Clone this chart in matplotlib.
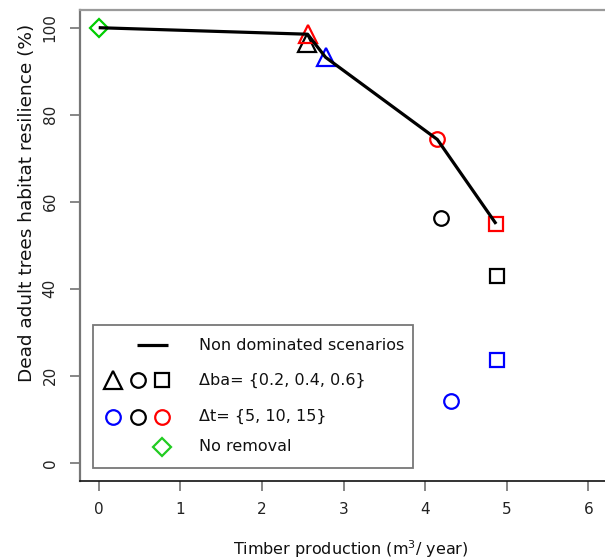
import matplotlib
matplotlib.use("Agg")
import matplotlib.pyplot as plt
from matplotlib.patches import Rectangle
from matplotlib.lines import Line2D

# ---------------- data ----------------
x_ticks = [0, 1, 2, 3, 4, 5, 6]
y_ticks = [0, 20, 40, 60, 80, 100]

# scenarios: shape by delta basal area, colour by delta t
scen_dba = [0.2, 0.2, 0.2, 0.4, 0.4, 0.4, 0.6, 0.6, 0.6]
scen_dt = [5, 10, 15, 5, 10, 15, 5, 10, 15]
scen_x = [2.78, 2.555, 2.56, 4.32, 4.20, 4.15, 4.88, 4.88, 4.87]
scen_y = [93.2, 96.5, 98.5, 14.2, 56.3, 74.3, 23.5, 43.0, 54.9]

no_removal_x = [0.0]
no_removal_y = [100.0]

front_x = [0.0, 2.56, 2.78, 4.15, 4.87]
front_y = [100.0, 98.5, 93.2, 74.3, 54.9]

dba_marker = {0.2: "^", 0.4: "o", 0.6: "s"}
dt_color = {5: "#0000FF", 10: "#000000", 15: "#FF0000"}
marker_size = {"^": 12.5, "o": 10.5, "s": 10}

legend_labels = ["Non dominated scenarios", "\u0394ba= {0.2, 0.4, 0.6}",
                 "\u0394t= {5, 10, 15}", "No removal"]

# ---------------- figure ----------------
W, H = 605, 560
fig = plt.figure(figsize=(W / 100, H / 100), dpi=100)
AX_L, AX_R, AX_T, AX_B = 80, 612, 10, 480.5
ax = fig.add_axes([AX_L / W, (H - AX_B) / H, (AX_R - AX_L) / W, (AX_B - AX_T) / H])

for xv, yv, d, t in zip(scen_x, scen_y, scen_dba, scen_dt):
    m = dba_marker[d]
    ax.plot([xv], [yv], linestyle="none", marker=m, markersize=marker_size[m],
            markerfacecolor="none", markeredgecolor=dt_color[t],
            markeredgewidth=1.6, zorder=3)

ax.plot(no_removal_x, no_removal_y, linestyle="none", marker="D", markersize=9.3,
        markerfacecolor="none", markeredgecolor="#00CD00", markeredgewidth=1.6,
        zorder=3)

ax.plot(front_x, front_y, color="black", linewidth=2.3, zorder=4,
        solid_capstyle="butt")

ax.set_xlim((AX_L - 98.7) / 81.6, (AX_R - 98.7) / 81.6)
ax.set_ylim((462.7 - AX_B) / 4.35, (462.7 - AX_T) / 4.35)
ax.set_xticks(x_ticks)
ax.set_xticklabels([str(v) for v in x_ticks])
ax.set_yticks(y_ticks)
ax.set_yticklabels([str(v) for v in y_ticks])

ax.tick_params(axis="both", direction="out", length=7.2, width=1.1,
               color="#666666", labelsize=11, labelcolor="#222222")
ax.tick_params(axis="x", pad=8)
ax.tick_params(axis="y", pad=9, labelrotation=90)
for lab in ax.get_yticklabels():
    lab.set_verticalalignment("center")

ax.spines["right"].set_visible(False)
ax.spines["top"].set_color("#9a9a9a")
ax.spines["top"].set_linewidth(1.6)
ax.spines["left"].set_color("#777777")
ax.spines["left"].set_linewidth(1.6)
ax.spines["bottom"].set_color("#111111")
ax.spines["bottom"].set_linewidth(1.2)

ax.set_xlabel("Timber production (m$^3$/ year)", fontsize=11.5, color="#111111")
ax.xaxis.set_label_coords((351 - AX_L) / (AX_R - AX_L), (AX_B - 538) / (AX_B - AX_T))
ax.set_ylabel("Dead adult trees habitat resilience (%)", fontsize=13.3,
              color="#111111")
ax.yaxis.set_label_coords((36 - AX_L) / (AX_R - AX_L), (AX_B - 203) / (AX_B - AX_T))


# ---------------- legend (drawn as a boxed key) ----------------
def pa(px, py):
    return ((px - AX_L) / (AX_R - AX_L), (AX_B - py) / (AX_B - AX_T))


x0, y0 = pa(92.7, 467.7)
x1, y1 = pa(412.7, 325)
ax.add_patch(Rectangle((x0, y0), x1 - x0, y1 - y0, transform=ax.transAxes,
                       facecolor="white", edgecolor="#777777", linewidth=1.3,
                       zorder=5))

row_y = [345, 380, 416.7, 446.7]
col_x = [113.3, 138.3, 161.7]
text_x = 199.3

la, lb = pa(137, row_y[0]), pa(168, row_y[0])
ax.add_line(Line2D([la[0], lb[0]], [la[1], lb[1]], transform=ax.transAxes,
                   color="black", linewidth=2.3, zorder=6, solid_capstyle="butt"))

for cx, m in zip(col_x, ["^", "o", "s"]):
    p = pa(cx, row_y[1])
    ax.add_line(Line2D([p[0]], [p[1]], transform=ax.transAxes, linestyle="none",
                       marker=m, markersize=marker_size[m], markerfacecolor="none",
                       markeredgecolor="black", markeredgewidth=1.6, zorder=6))
for cx, t in zip(col_x, [5, 10, 15]):
    p = pa(cx, row_y[2])
    ax.add_line(Line2D([p[0]], [p[1]], transform=ax.transAxes, linestyle="none",
                       marker="o", markersize=marker_size["o"],
                       markerfacecolor="none", markeredgecolor=dt_color[t],
                       markeredgewidth=1.6, zorder=6))
p = pa(col_x[2], row_y[3])
ax.add_line(Line2D([p[0]], [p[1]], transform=ax.transAxes, linestyle="none",
                   marker="D", markersize=9.3, markerfacecolor="none",
                   markeredgecolor="#22CC22", markeredgewidth=1.6, zorder=6))

for ry, lab in zip(row_y, legend_labels):
    p = pa(text_x, ry)
    ax.text(p[0], p[1], lab, transform=ax.transAxes, fontsize=11.5,
            color="#111111", ha="left", va="center", zorder=7)

fig.savefig("out.png", dpi=100)
